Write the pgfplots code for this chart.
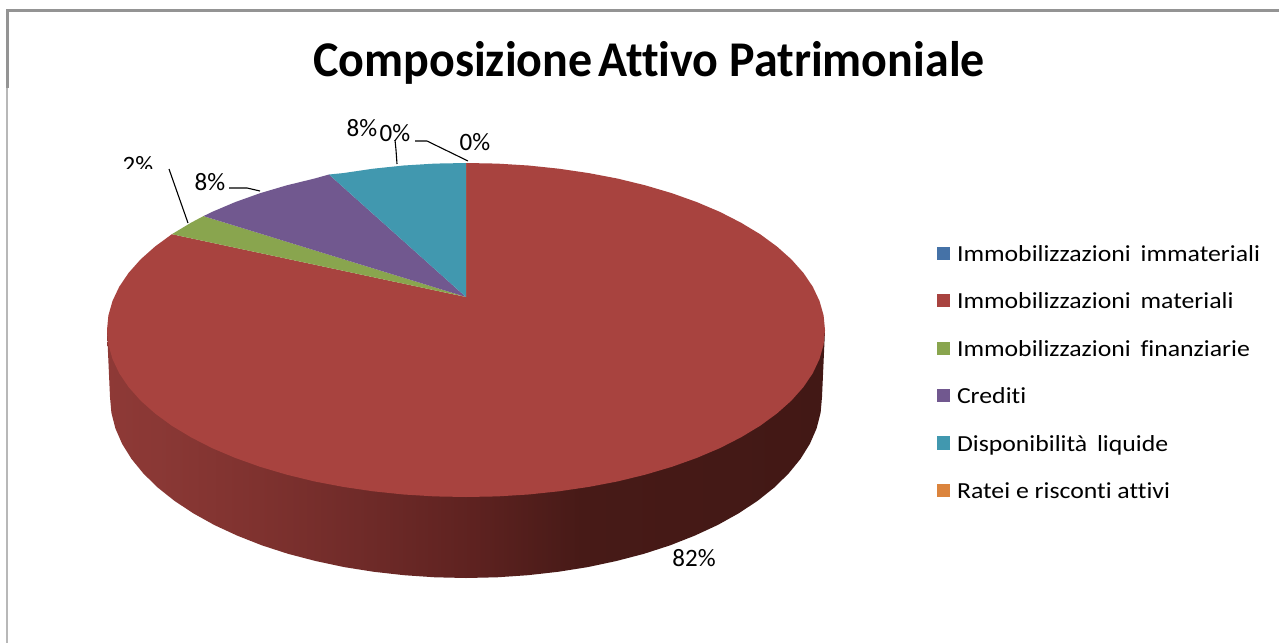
\documentclass[border=0pt]{standalone}
\usepackage{fontspec}
\setmainfont{Carlito}[Ligatures={NoCommon}]
\newfontfamily\legfont{Carlito}[Ligatures={NoCommon},FakeStretch=1.12]
\newfontfamily\titlefont{Carlito}[Ligatures={NoCommon},FakeStretch=0.96]
\usepackage{pgfplots}
\pgfplotsset{compat=1.18}

\definecolor{cblue}{HTML}{4572A7}
\definecolor{cred}{HTML}{A8433F}
\definecolor{cgreen}{HTML}{89A54E}
\definecolor{cpurple}{HTML}{71588F}
\definecolor{cteal}{HTML}{4198AF}
\definecolor{corange}{HTML}{DB843D}
\definecolor{wall0}{HTML}{8E3936}
\definecolor{wall1}{HTML}{8A3835}
\definecolor{wall2}{HTML}{7F322F}
\definecolor{wall3}{HTML}{702B29}
\definecolor{wall4}{HTML}{5E2220}
\definecolor{wall5}{HTML}{471A17}
\definecolor{wall6}{HTML}{421815}

% side wall of the disc, light on the left and almost black on the right
\pgfdeclarehorizontalshading{sidewall}{100bp}{
  color(0bp)=(wall0);
  color(25bp)=(wall0);
  color(28.5bp)=(wall1);
  color(35.4bp)=(wall2);
  color(42.4bp)=(wall3);
  color(50.5bp)=(wall4);
  color(58bp)=(wall5);
  color(75bp)=(wall6);
  color(100bp)=(wall6)}

\begin{document}
\begin{tikzpicture}
\begin{axis}[
  width=1279bp, height=643bp,
  scale only axis,
  xmin=0, xmax=1279,
  ymin=0, ymax=643,
  y dir=reverse,
  hide axis,
  legend style={
    at={(axis cs:936.7,243.5)}, anchor=north west,
    draw=none, fill=none,
    font=\fontsize{23bp}{27bp}\selectfont\legfont,
    row sep=23.4bp,
    inner sep=0pt, outer sep=0pt,
    nodes={inner sep=0pt, anchor=base west, text height=18bp, text depth=6bp},
  },
  legend cell align=left,
  legend image code/.code={
    \fill[#1] (0bp,1.5bp) rectangle (13.3bp,14.8bp);
    \path (20.3bp,0bp);
  },
]

% page background and frame
\addplot[draw=none, fill=white, forget plot] coordinates {(0,0) (1279,0) (1279,643) (0,643)} \closedcycle;
\addplot[color=black!42, line width=3bp, forget plot] coordinates {(7.5,88) (7.5,10.5) (1279,10.5)};
\addplot[color=black!28, line width=2.4bp, forget plot] coordinates {(7.2,88) (7.2,643)};

% side wall
\addplot[draw=none, shading=sidewall, forget plot] coordinates {
  (825,330) (822,397)
  (820.6,412.8) (816.6,428.4) (809.9,443.8) (800.5,458.9) (788.6,473.5) (774.3,487.5)
  (757.6,500.8) (738.7,513.3) (717.7,525) (694.8,535.6) (670.2,545.3) (644,553.8)
  (616.4,561) (587.8,567.1) (558.1,571.8) (527.8,575.2) (497,577.3) (466,578)
  (435,577.3) (404.2,575.2) (373.9,571.8) (344.2,567.1) (315.6,561) (288,553.8)
  (261.8,545.3) (237.2,535.6) (214.3,525) (193.3,513.3) (174.4,500.8) (157.7,487.5)
  (143.4,473.5) (131.5,458.9) (122.1,443.8) (115.4,428.4) (111.4,412.8) (110,397)
  (107,330)
} -- cycle;

% top face, one slice per category
\addplot[draw=none, fill=cblue] coordinates {(466,297) (466,163) (466,163)} -- cycle;
\addlegendentry{Immobilizzazioni\hspace{4bp} immateriali}

\addplot[draw=none, fill=cred] coordinates {
  (466,297) (466,163)
  (497.3,163.6) (528.3,165.5) (558.9,168.7) (588.8,173.1) (617.7,178.6) (645.5,185.4)
  (671.9,193.2) (696.8,202.1) (719.9,211.9) (741,222.7) (760.1,234.2) (776.9,246.5)
  (791.4,259.4) (803.4,272.9) (812.8,286.8) (819.5,301) (823.6,315.4) (825,330)
  (823.6,344.6) (819.5,359) (812.8,373.2) (803.4,387.1) (791.4,400.6) (776.9,413.5)
  (760.1,425.8) (741,437.3) (719.9,448.1) (696.8,457.9) (671.9,466.8) (645.5,474.6)
  (617.7,481.4) (588.8,486.9) (558.9,491.3) (528.3,494.5) (497.3,496.4) (466,497)
  (434.7,496.4) (403.7,494.5) (373.1,491.3) (343.2,486.9) (314.3,481.4) (286.5,474.6)
  (260.1,466.8) (235.2,457.9) (212.1,448.1) (191,437.3) (171.9,425.8) (155.1,413.5)
  (140.6,400.6) (128.6,387.1) (119.2,373.2) (112.5,359) (108.4,344.6) (107,330)
  (108.4,315.4) (112.5,301) (119.2,286.8) (128.6,272.9) (140.6,259.4) (155.1,246.5)
  (171.9,234.2)
} -- cycle;
\addlegendentry{Immobilizzazioni\hspace{4bp} materiali}

\addplot[draw=none, fill=cgreen] coordinates {
  (466,297) (171.9,234.2) (191,222.7) (203.5,216.1)
} -- cycle;
\addlegendentry{Immobilizzazioni\hspace{4bp} finanziarie}

\addplot[draw=none, fill=cpurple] coordinates {
  (466,297) (203.5,216.1) (212.1,211.9) (235.2,202.1) (260.1,193.2) (286.5,185.4)
  (314.3,178.6) (329,174.5)
} -- cycle;
\addlegendentry{Crediti}

\addplot[draw=none, fill=cteal] coordinates {
  (466,297) (329,174.5) (343.2,173.1) (373.1,168.7) (403.7,165.5) (434.7,163.6) (466,163)
} -- cycle;
\addlegendentry{Disponibilità\hspace{4bp} liquide}

\addplot[draw=none, fill=corange] coordinates {(466,297) (466,163) (466,163)} -- cycle;
\addlegendentry{Ratei e risconti attivi}

% leader lines
\addplot[black, line width=1.1bp, forget plot] coordinates {(169,169) (188,223)};
\addplot[black, line width=1.1bp, forget plot] coordinates {(229,188) (247,188) (260,191)};
\addplot[black, line width=1.1bp, forget plot] coordinates {(395,140) (396,150) (397,164)};
\addplot[black, line width=1.1bp, forget plot] coordinates {(415,141) (427,141) (468,161)};

% title and percentages
\node[font=\fontsize{50bp}{54bp}\selectfont\titlefont\bfseries] at (axis cs:649,63) {Composizione\hspace{-5bp} Attivo Patrimoniale};
\node[font=\fontsize{25bp}{28bp}\selectfont] at (axis cs:694,558) {82\%};
\node[font=\fontsize{25bp}{28bp}\selectfont] at (axis cs:475,142) {0\%};
\node[font=\fontsize{25bp}{28bp}\selectfont] at (axis cs:362,128) {8\%};
\node[font=\fontsize{25bp}{28bp}\selectfont] at (axis cs:395,133) {0\%};
\node[font=\fontsize{25bp}{28bp}\selectfont] at (axis cs:210,182) {8\%};
\node[font=\fontsize{25bp}{28bp}\selectfont] at (axis cs:138,165) {2\%};
% the original cuts this label off at its lower edge
\fill[white] (axis cs:110,169) rectangle (axis cs:165,185);
\end{axis}
\end{tikzpicture}
\end{document}
